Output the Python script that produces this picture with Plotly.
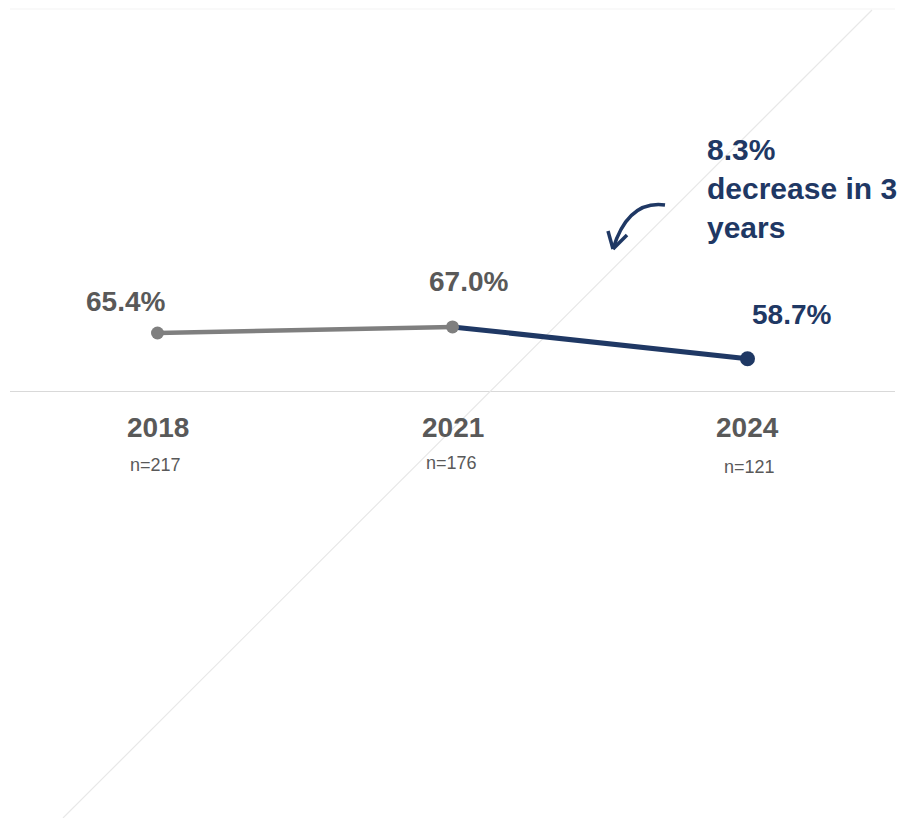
import plotly.graph_objects as go

# Survey waves and share of respondents
years = ["2018", "2021", "2024"]
shares = [65.4, 67.0, 58.7]
sample_sizes = ["n=217", "n=176", "n=121"]
change_note = "8.3%<br>decrease in 3<br>years"

GRAY_TEXT = "#595959"
GRAY_LINE = "#7f7f7f"
NAVY = "#1f3864"
FONT = "Liberation Sans, Arial, sans-serif"

W, H = 912, 818
M_L, M_R, M_T, M_B = 10, 17, 9, 426

# evenly spaced slots for the survey waves
pos = list(range(len(years)))


def px(x, y):
    """Pixel position -> paper coordinates."""
    pw = W - M_L - M_R
    ph = H - M_T - M_B
    return (x - M_L) / pw, (H - M_B - y) / ph


fig = go.Figure()

# Earlier period in gray, most recent change in navy
fig.add_trace(go.Scatter(
    x=pos[:2], y=shares[:2], mode="lines",
    line=dict(color=GRAY_LINE, width=4.5), hoverinfo="skip", showlegend=False,
))
fig.add_trace(go.Scatter(
    x=pos[1:], y=shares[1:], mode="lines",
    line=dict(color=NAVY, width=5), hoverinfo="skip", showlegend=False,
))
fig.add_trace(go.Scatter(
    x=pos, y=shares, mode="markers",
    marker=dict(color=[GRAY_LINE, GRAY_LINE, NAVY], size=[13, 13, 15],
                opacity=1, line=dict(width=0)),
    hoverinfo="skip", showlegend=False,
))

# Value labels
label_offsets = [(-32, 32), (16, 45), (44, 44)]
label_colors = [GRAY_TEXT, GRAY_TEXT, NAVY]
for p, v, (dx, dy), c in zip(pos, shares, label_offsets, label_colors):
    fig.add_annotation(
        x=p, y=v, xref="x", yref="y", text=f"<b>{v:.1f}%</b>", showarrow=False,
        xshift=dx, yshift=dy, font=dict(family=FONT, size=28, color=c),
    )

# Year labels and sample sizes under the baseline
n_shifts = [-73, -71, -75]
n_dx = [-2, -1, 2]
for p, yr, n, ns, nd in zip(pos, years, sample_sizes, n_shifts, n_dx):
    fig.add_annotation(
        x=p, y=50, xref="x", yref="y", text=f"<b>{yr}</b>", showarrow=False,
        yshift=-35, font=dict(family=FONT, size=28, color=GRAY_TEXT),
    )
    fig.add_annotation(
        x=p, y=50, xref="x", yref="y", text=n, showarrow=False,
        yshift=ns, xshift=nd, font=dict(family=FONT, size=18, color=GRAY_TEXT),
    )

# Callout text
tx, ty = px(705, 131)
fig.add_annotation(
    xref="paper", yref="paper", x=tx, y=ty, xanchor="left", yanchor="top",
    text=f"<b>{change_note}</b>", showarrow=False, align="left",
    font=dict(family=FONT, size=30, color=NAVY),
)

# Curved arrow pointing to the decline
p0 = px(665, 205)
pc = px(628, 200)
p1 = px(613, 249)
fig.add_shape(
    type="path", xref="paper", yref="paper",
    path=f"M {p0[0]},{p0[1]} Q {pc[0]},{pc[1]} {p1[0]},{p1[1]}",
    line=dict(color=NAVY, width=3.5),
)
for bx, by in [(608, 231), (627, 235)]:
    b = px(bx, by)
    fig.add_shape(
        type="line", xref="paper", yref="paper",
        x0=b[0], y0=b[1], x1=p1[0], y1=p1[1],
        line=dict(color=NAVY, width=3.5),
    )

# Baseline and faint top rule
fig.add_shape(type="line", xref="paper", yref="y", x0=0, x1=1, y0=50, y1=50,
              line=dict(color="#d9d9d9", width=2), layer="below")
fig.add_shape(type="line", xref="paper", yref="paper", x0=0, x1=1, y0=1, y1=1,
              line=dict(color="#f3f3f3", width=1), layer="below")

# Faint diagonal rule across the canvas
d0 = px(63, 818)
d1 = px(872, 10)
fig.add_shape(type="line", xref="paper", yref="paper",
              x0=d0[0], y0=d0[1], x1=d1[0], y1=d1[1],
              line=dict(color="#e8e8e8", width=1.2), layer="below")

fig.update_xaxes(range=[-0.5, 2.5], showgrid=False, showticklabels=False,
                 zeroline=False, showline=False, ticks="")
fig.update_yaxes(range=[50, 150], showgrid=False, showticklabels=False,
                 zeroline=False, showline=False, ticks="")

fig.update_layout(
    width=W, height=H,
    margin=dict(l=M_L, r=M_R, t=M_T, b=M_B),
    plot_bgcolor="white", paper_bgcolor="white",
    font=dict(family=FONT),
)

fig.write_html("out.html")
